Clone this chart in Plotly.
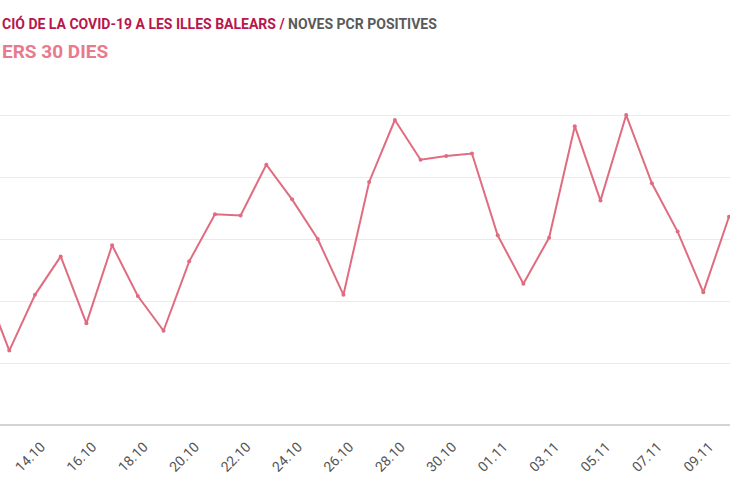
"""Noves PCR positives a les Illes Balears, darrers 30 dies."""
import plotly.graph_objects as go

# dates (2020) and daily new positive PCR tests
dates = [
    '2020-10-12', '2020-10-13', '2020-10-14', '2020-10-15', '2020-10-16',
    '2020-10-17', '2020-10-18', '2020-10-19', '2020-10-20', '2020-10-21',
    '2020-10-22', '2020-10-23', '2020-10-24', '2020-10-25', '2020-10-26',
    '2020-10-27', '2020-10-28', '2020-10-29', '2020-10-30', '2020-10-31',
    '2020-11-01', '2020-11-02', '2020-11-03', '2020-11-04', '2020-11-05',
    '2020-11-06', '2020-11-07', '2020-11-08', '2020-11-09', '2020-11-10',
]
positives = [
    114, 60, 105, 136, 82, 145, 104, 76, 132, 170,
    169, 210, 182, 150, 105, 196, 246, 214, 217, 219,
    153, 114, 151, 241, 181, 250, 195, 156, 107, 168,
]
y_grid = [0, 50, 100, 150, 200, 250]

title_main = 'CIÓ DE LA COVID-19 A LES ILLES BALEARS'
title_sub = 'NOVES PCR POSITIVES'
subtitle = 'ERS 30 DIES'

LINE = '#e06c80'
FONT = 'Roboto, sans-serif'

fig = go.Figure()
fig.add_trace(go.Scatter(
    x=dates,
    y=positives,
    mode='lines+markers',
    line=dict(color=LINE, width=2),
    marker=dict(color=LINE, size=4),
    hovertemplate='%{x|%d.%m}: %{y}<extra></extra>',
))

# title block, cut at the left edge like the source
fig.add_annotation(
    text=(f'<b><span style="color:#b8164c">{title_main} /</span> '
          f'<span style="color:#5a5a5a">{title_sub}</span></b>'),
    xref='paper', yref='paper', x=0, y=1, yanchor='middle', xanchor='left',
    yshift=67, showarrow=False, align='left',
    font=dict(family=FONT, size=14),
)
fig.add_annotation(
    text=f'<b>{subtitle}</b>',
    xref='paper', yref='paper', x=0, y=1, yanchor='middle', xanchor='left',
    yshift=39, showarrow=False, align='left',
    font=dict(family=FONT, size=19, color='#e87a8c'),
)

fig.update_layout(
    width=730,
    height=500,
    margin=dict(l=0, r=0, t=90, b=75),
    paper_bgcolor='white',
    plot_bgcolor='white',
    showlegend=False,
    font=dict(family=FONT),
)
fig.update_xaxes(
    range=['2020-10-12 15:19', '2020-11-10 00:56'],
    tickformat='%d.%m',
    tick0='2020-10-14',
    dtick=2 * 86400000,
    tickangle=-45,
    tickfont=dict(size=14, color='#555555'),
    ticklabelstandoff=10,
    ticklabelshift=6,
    automargin=False,
    showgrid=False,
    showline=False,
    ticks='',
    zeroline=False,
)
fig.update_yaxes(
    range=[0, 270.2],
    tickvals=y_grid,
    showticklabels=False,
    automargin=False,
    gridcolor='#ebebeb',
    gridwidth=1,
    zeroline=True,
    zerolinecolor='#d4d4d4',
    zerolinewidth=2,
)

fig.write_html('out.html', config={'displayModeBar': False},
               post_script="document.body.style.margin='0';")
